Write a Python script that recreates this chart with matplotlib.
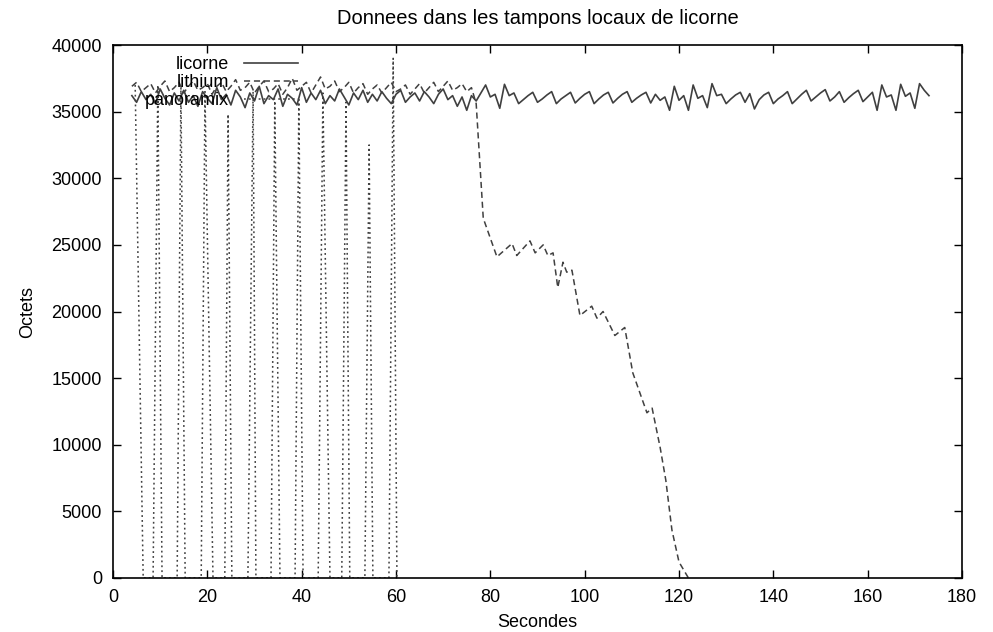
import matplotlib
matplotlib.use("Agg")
import matplotlib.pyplot as plt
import numpy as np

# --- DATA ---
# licorne: one sample per second from t=4 to t=173
licorne_start = 4
licorne = [
    36200, 35700, 36500, 35900, 36300, 35600, 36700, 36000, 35500, 36400, 35800, 36600,
    35700, 36200, 35400, 36500, 36000, 35600, 36800, 35900, 36300, 35500, 36600, 36100,
    35300, 36400, 35800, 36900, 35600, 36200, 35900, 36700, 35400, 36300, 36000, 35500,
    36800, 35700, 36400, 35900, 36600, 35600, 36200, 35800, 36700, 36100, 35500, 36400,
    35900, 36600, 35700, 36300, 35800, 36500, 36000, 35600, 36300, 36600, 35700, 36100,
    36400, 35800, 36500, 36100, 35600, 36300, 36700, 35900, 36200, 35400, 36100, 35100,
    36200, 35800, 36400, 37000, 36100, 36300, 35250, 37050, 36200, 36400, 35600, 35900,
    36200, 36450, 35700, 35950, 36250, 36500, 35600, 35950, 36200, 36450, 35650, 36000,
    36300, 36500, 35600, 35950, 36250, 36450, 35650, 36000, 36300, 36500, 35700, 36000,
    36250, 36450, 35650, 36300, 35850, 36100, 35100, 36900, 35850, 36200, 35100, 37000,
    36000, 36200, 35300, 37100, 36200, 36300, 35600, 35950, 36250, 36450, 35700, 36350,
    35200, 35900, 36250, 36450, 35600, 35950, 36200, 36500, 35600, 35950, 36300, 36600,
    35800, 36100, 36400, 36650, 35800, 36100, 36500, 35700, 36050, 36350, 36600, 35750,
    36100, 36450, 35100, 37000, 36100, 36250, 35100, 37050, 36150, 36400, 35250, 37100,
    36600, 36200,
]

# lithium: one sample per second from t=4 to t=77, then the decline
lithium_start = 4
lithium_head = [
    36900, 37200, 36500, 36800, 37100, 36400, 36900, 37300, 36500, 36800, 37200, 36400,
    36900, 37300, 36600, 36800, 37100, 36300, 36900, 37200, 36500, 36900, 37400, 36600,
    36800, 37200, 36400, 36900, 37300, 36500, 36700, 37100, 36300, 36800, 37500, 36600,
    36900, 37200, 36400, 37000, 37600, 36700, 36900, 37300, 36500, 36800, 37200, 36400,
    36800, 37100, 36300, 36700, 37000, 36400, 36800, 37200, 36500, 36700, 37000, 36300,
    36700, 37100, 36400, 36800, 37200, 36500, 36900, 37300, 36600, 36800, 37100, 36500,
    36800, 35600,
]
lithium_tail_t = [78.5, 81.4, 84.6, 85.6, 88.4, 89.5, 91.2, 92.2, 93.3, 94.3, 95.4, 96.2,
                  97.3, 99.0, 101.5, 102.6, 103.9, 106.4, 108.5, 110.2, 113.2, 114.3,
                  116.0, 117.2, 118.5, 120.0, 122.0]
lithium_tail_v = [27000, 24100, 25100, 24200, 25300, 24400, 25000, 24200, 24400, 21800,
                  23700, 22950, 23100, 19700, 20400, 19500, 20000, 18200, 18800, 15400,
                  12400, 12750, 9800, 7350, 3600, 1200, 0]

# panoramix: spikes between full buffer and zero
panoramix_t = [4.7, 6.4, 8.5, 9.5, 10.4, 13.6, 14.4, 15.3, 18.7, 19.5, 21.2, 23.7, 24.4,
               25.2, 28.6, 29.7, 30.3, 33.5, 34.3, 35.4, 38.6, 39.4, 40.3, 43.5, 44.5,
               46.0, 48.5, 49.4, 50.2, 53.4, 54.3, 55.1, 58.5, 59.4, 60.2]
panoramix_v = [37000, 0, 0, 37000, 0, 0, 36800, 0, 0, 36500, 0, 0, 34800, 0, 0, 36500,
               0, 0, 35800, 0, 0, 35900, 0, 0, 36400, 0, 0, 35700, 0, 0, 32500, 0, 0,
               39000, 0]
# --------------------------------------

plt.rcParams['font.family'] = ['Liberation Sans', 'DejaVu Sans']
plt.rcParams['font.size'] = 13

licorne_t = np.arange(len(licorne)) + licorne_start
lithium_t = np.concatenate([np.arange(len(lithium_head)) + lithium_start, lithium_tail_t])
lithium_v = np.concatenate([lithium_head, lithium_tail_v])

fig = plt.figure(figsize=(9.93, 6.32), dpi=100)
ax = fig.add_axes([113 / 993, 54 / 632, 849 / 993, 533 / 632])

ax.plot(licorne_t, licorne, color='#404040', lw=1.2, ls='-', label='licorne')
ax.plot(lithium_t, lithium_v, color='#404040', lw=1.1, ls=(0, (4, 2.5)), label='lithium')
ax.plot(panoramix_t, panoramix_v, color='#404040', lw=1.1, ls=(0, (1.2, 2)), label='panoramix')

ax.set_xlim(0, 180)
ax.set_ylim(0, 40000)
ax.set_xticks(range(0, 181, 20))
ax.set_yticks(range(0, 40001, 5000))
ax.tick_params(direction='in', length=6, width=1, top=True, right=True, pad=8)
for s in ax.spines.values():
    s.set_linewidth(1.2)

ax.set_title('Donnees dans les tampons locaux de licorne', pad=15, fontsize=14.5)
ax.set_xlabel('Secondes', labelpad=6)
ax.set_ylabel('Octets', labelpad=11)

ax.legend(loc='upper right', bbox_to_anchor=(0.222, 0.986), frameon=False,
          markerfirst=False, handlelength=3.0, handletextpad=0.8,
          labelspacing=0.05, borderpad=0.2, borderaxespad=0)

fig.savefig('out.png', dpi=100)
